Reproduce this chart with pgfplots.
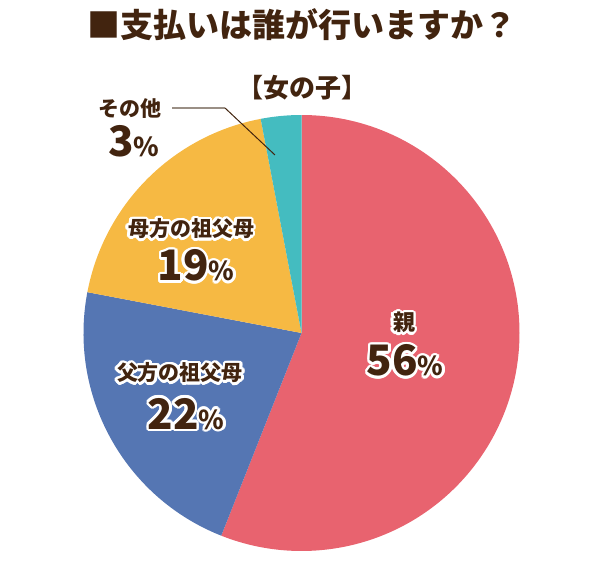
\documentclass[border=0pt]{standalone}
\usepackage{pgfplots}
\pgfplotsset{compat=1.18}
\usepackage{pgfplotstable}
\usepackage{fontspec}
\usepackage{contour}
\newfontfamily\jp{Noto Sans CJK JP Black}
\contourlength{1.3pt}

\definecolor{pieRed}{HTML}{E8636F}
\definecolor{pieBlue}{HTML}{5576B3}
\definecolor{pieYellow}{HTML}{F6B943}
\definecolor{pieTeal}{HTML}{44BCC0}
\definecolor{txt}{HTML}{42240F}
\definecolor{lead}{HTML}{9A8F85}

% shares, clockwise from 12 o'clock
\pgfplotstableread{
share
56
22
19
3
}\piedata

\newcommand{\pct}[1]{{\fontsize{21}{24}\selectfont #1}{\fontsize{13}{14}\selectfont\%}}

\begin{document}
\begin{tikzpicture}
\pgfplotstablegetelem{0}{share}\of\piedata \let\vA\pgfplotsretval
\pgfplotstablegetelem{1}{share}\of\piedata \let\vB\pgfplotsretval
\pgfplotstablegetelem{2}{share}\of\piedata \let\vC\pgfplotsretval
\pgfplotstablegetelem{3}{share}\of\piedata \let\vD\pgfplotsretval
\pgfmathsetmacro\aA{90-3.6*\vA}
\pgfmathsetmacro\aB{\aA-3.6*\vB}
\pgfmathsetmacro\aC{\aB-3.6*\vC}
\pgfmathsetmacro\aD{\aC-3.6*\vD}
\begin{axis}[
    scale only axis, width=300.5pt, height=292.5pt,
    xmin=0, xmax=601, ymin=0, ymax=585,
    hide axis, clip=false,
]
\path (axis cs:0,0) rectangle (axis cs:601,585);
\fill[pieRed] (axis cs:301.5,252) -- ++(90:109pt) arc[start angle=90, end angle=\aA, radius=109pt] -- cycle;
\fill[pieBlue] (axis cs:301.5,252) -- ++(\aA:109pt) arc[start angle=\aA, end angle=\aB, radius=109pt] -- cycle;
\fill[pieYellow] (axis cs:301.5,252) -- ++(\aB:109pt) arc[start angle=\aB, end angle=\aC, radius=109pt] -- cycle;
\fill[pieTeal] (axis cs:301.5,252) -- ++(\aC:109pt) arc[start angle=\aC, end angle=\aD, radius=109pt] -- cycle;

% leader line for the small slice
\addplot[lead, line width=0.6pt] coordinates {(172,477) (225,477)};
\addplot[txt, line width=0.5pt] coordinates {(225,477) (275,430)};

\begin{scope}[every node/.style={txt, inner sep=0pt, font=\jp}]
\node[font=\jp\fontsize{16.5}{18}\selectfont] at (axis cs:302,560) {■支払いは誰が行いますか？};
\node[font=\jp\fontsize{13}{15}\selectfont] at (axis cs:302,497) {【女の子】};
\node[font=\jp\fontsize{10.5}{12}\selectfont] at (axis cs:130,475) {\contour{white}{その他}};
\node at (axis cs:134,442) {\contour{white}{\pct{3}}};
\node[font=\jp\fontsize{10.5}{12}\selectfont] at (axis cs:191,355) {\contour{white}{母方の祖父母}};
\node at (axis cs:196,318) {\contour{white}{\pct{19}}};
\node[font=\jp\fontsize{10.5}{12}\selectfont] at (axis cs:180,211) {\contour{white}{父方の祖父母}};
\node at (axis cs:186,170) {\contour{white}{\pct{22}}};
\node[font=\jp\fontsize{11}{12}\selectfont] at (axis cs:404,261) {\contour{white}{親}};
\node at (axis cs:405,223) {\contour{white}{\pct{56}}};
\end{scope}
\end{axis}
\end{tikzpicture}
\end{document}
